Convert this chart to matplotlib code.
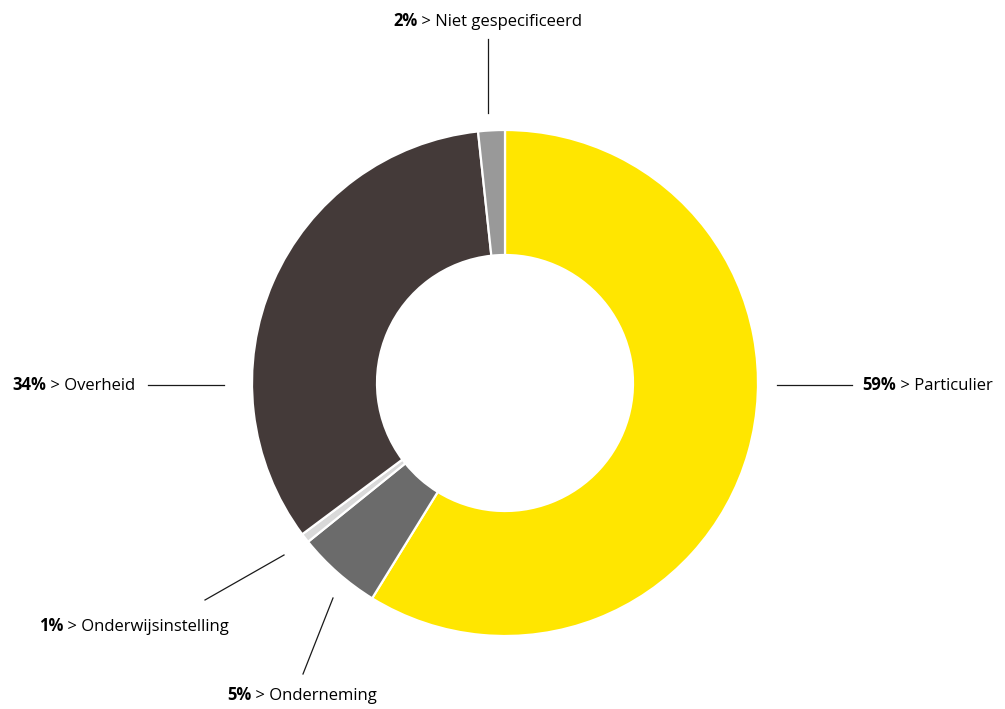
import matplotlib.pyplot as plt

plt.rcParams['font.family'] = ['Open Sans', 'DejaVu Sans']

# data (share of the ring, in %)
categories = ['Particulier', 'Onderneming', 'Onderwijsinstelling', 'Overheid', 'Niet gespecificeerd']
shares = [58.8, 5.4, 0.6, 33.5, 1.7]
pct_labels = ['59%', '5%', '1%', '34%', '2%']
colors = ['#ffe600', '#6b6b6b', '#d9d9d9', '#443a39', '#999999']

W, H = 1005, 709


def py(y):
    # pixel row (from top) -> data y
    return H - y


fig = plt.figure(figsize=(W / 100, H / 100), dpi=100)
ax = fig.add_axes([0, 0, 1, 1])

ax.pie(shares, colors=colors, startangle=90, counterclock=False,
       center=(505, py(383)), radius=253, frame=True,
       wedgeprops=dict(width=125, edgecolor='white', linewidth=1.6))

ax.set_xlim(0, W)
ax.set_ylim(0, H)
ax.set_aspect('equal')
ax.axis('off')

# leader lines (pixel coords)
leaders = {
    'Particulier': ((777, 852), (385, 385)),
    'Overheid': ((148, 224), (385, 385)),
    'Niet gespecificeerd': ((488, 488), (39, 113)),
    'Onderwijsinstelling': ((205, 284), (600, 555)),
    'Onderneming': ((303, 333), (674, 598)),
}
for xs, ys in leaders.values():
    ax.plot(xs, [py(y) for y in ys], color='#1a1a1a', lw=0.9)

fs = 12
# label anchors: (x, baseline row, alignment)
anchors = {
    'Particulier': (862, 390, 'left'),
    'Overheid': (135, 390, 'right'),
    'Niet gespecificeerd': (488, 26, 'center'),
    'Onderwijsinstelling': (39, 631, 'left'),
    'Onderneming': (227, 700, 'left'),
}

for cat, pct in zip(categories, pct_labels):
    x, yb, align = anchors[cat]
    rest = ' > ' + cat
    if align == 'left':
        t = ax.text(x, py(yb), pct, fontsize=fs, fontweight='bold', va='baseline', ha='left')
        ax.annotate(rest, xy=(1, 0), xycoords=t, fontsize=fs, va='bottom', ha='left')
    elif align == 'right':
        t = ax.text(x, py(yb), rest, fontsize=fs, va='baseline', ha='right')
        ax.annotate(pct, xy=(0, 0), xycoords=t, fontsize=fs, fontweight='bold', va='bottom', ha='right')
    else:
        t = ax.text(x - 95, py(yb), pct, fontsize=fs, fontweight='bold', va='baseline', ha='left')
        ax.annotate(rest, xy=(1, 0), xycoords=t, fontsize=fs, va='bottom', ha='left')

fig.savefig('out.png', dpi=100)
